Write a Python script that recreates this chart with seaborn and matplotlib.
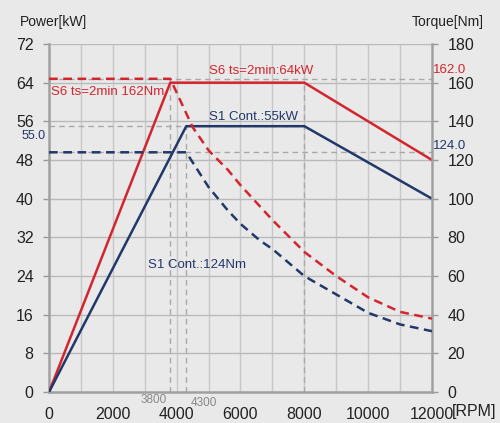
import numpy as np
import pandas as pd
import matplotlib
matplotlib.use("Agg")
import matplotlib.pyplot as plt
import seaborn as sns

# power curves (kW)
s6_power_rpm = [0, 3800, 8000, 12000]
s6_power_kw = [0, 64, 64, 48]
s1_power_rpm = [0, 4300, 8000, 12000]
s1_power_kw = [0, 55, 55, 40]

# torque curves (Nm)
s6_torque_rpm = [0, 3800, 4500, 5000, 5600, 6000, 7000, 8000, 9000, 10000, 11000, 12000]
s6_torque_nm = [162, 162, 137, 125, 115, 107, 89, 72.5, 60, 49, 41.5, 38]
s1_torque_rpm = [0, 4300, 5000, 5600, 6000, 6600, 7000, 8000, 9000, 10000, 11000, 12000]
s1_torque_nm = [124, 124, 106, 94, 87, 78.5, 74, 60, 50.5, 41, 35, 31.5]

x_ticks = [0, 2000, 4000, 6000, 8000, 10000, 12000]
power_ticks = [0, 8, 16, 24, 32, 40, 48, 56, 64, 72]
torque_ticks = [0, 20, 40, 60, 80, 100, 120, 140, 160, 180]

red = "#d3252e"
navy = "#23386a"
gray = "#a8a8a8"

sns.set_theme(style="white")
plt.rcParams['font.family'] = ['Liberation Sans', 'DejaVu Sans']

fig = plt.figure(figsize=(5, 4.23), dpi=100)
fig.patch.set_facecolor("#e8e9e8")
ax = fig.add_axes([0.098, 0.073, 0.766, 0.823])
ax.set_facecolor("#e8e9e8")
ax2 = ax.twinx()

# grid
for xv in range(1000, 12000, 1000):
    ax.axvline(xv, color="#c6c7c6", lw=1, zorder=0)
for yv in power_ticks[1:]:
    ax.axhline(yv, color="#b9bab9", lw=1, zorder=0)

# reference dashed lines
ax.plot([0, 12000], [64.8, 64.8], ls=(0, (4, 3)), color=gray, lw=1, zorder=1)
ax.plot([0, 8000], [55, 55], ls=(0, (4, 3)), color=gray, lw=1, zorder=1)
ax.plot([0, 12000], [49.6, 49.6], ls=(0, (4, 3)), color=gray, lw=1, zorder=1)
ax.plot([3800, 3800], [0, 64.8], ls=(0, (4, 3)), color=gray, lw=1, zorder=1)
ax.plot([4300, 4300], [0, 55], ls=(0, (4, 3)), color=gray, lw=1, zorder=1)
ax.plot([8000, 8000], [0, 64], ls=(0, (4, 3)), color=gray, lw=1, zorder=1)

sns.lineplot(x=s6_power_rpm, y=s6_power_kw, ax=ax, color=red, lw=1.8, zorder=3)
sns.lineplot(x=s1_power_rpm, y=s1_power_kw, ax=ax, color=navy, lw=1.8, zorder=3)
sns.lineplot(x=s6_torque_rpm, y=s6_torque_nm, ax=ax2, color=red, lw=1.8,
             ls=(0, (3.5, 2.2)), zorder=3)
sns.lineplot(x=s1_torque_rpm, y=s1_torque_nm, ax=ax2, color=navy, lw=1.8,
             ls=(0, (3.5, 2.2)), zorder=3)

ax.set_xlim(0, 12000)
ax.set_ylim(0, 72)
ax2.set_ylim(0, 180)
ax.set_xticks(x_ticks)
ax.set_yticks(power_ticks)
ax2.set_yticks(torque_ticks)
ax2.grid(False)

for a in (ax, ax2):
    for s in a.spines.values():
        s.set_visible(False)
    a.tick_params(colors="#999999", labelcolor="#222222", labelsize=11.5,
                  length=4, width=1, direction="out", pad=7)
    a.set_xlabel("")
    a.set_ylabel("")
ax.spines["left"].set_visible(True)
ax.spines["bottom"].set_visible(True)
ax2.spines["right"].set_visible(True)
for s in (ax.spines["left"], ax.spines["bottom"], ax2.spines["right"]):
    s.set_color("#a0a0a0")
    s.set_linewidth(1.8)
ax.tick_params(axis="x", length=0, pad=11)

fig.text(0.04, 0.948, "Power[kW]", fontsize=10, color="#222222", va="center")
fig.text(0.824, 0.948, "Torque[Nm]", fontsize=10, color="#222222", va="center")
fig.text(0.904, 0.027, "[RPM]", fontsize=11.5, color="#222222", va="center")

ax.text(5000, 66.4, "S6 ts=2min:64kW", color=red, fontsize=9.5, va="center")
ax.text(60, 62.0, "S6 ts=2min 162Nm", color=red, fontsize=9.5, va="center")
ax.text(5000, 56.8, "S1 Cont.:55kW", color=navy, fontsize=9.5, va="center")
ax.text(3100, 26.3, "S1 Cont.:124Nm", color=navy, fontsize=9.5, va="center")
ax.text(-120, 52.9, "55.0", color=navy, fontsize=9, ha="right", va="center")
ax.text(12030, 50.9, "124.0", color=navy, fontsize=9.5, va="center")
ax.text(12030, 66.6, "162.0", color=red, fontsize=9.5, va="center")
ax.text(3700, -1.7, "3800", color="#888888", fontsize=8.5, ha="right", va="center")
ax.text(4450, -2.3, "4300", color="#888888", fontsize=8.5, va="center")

fig.savefig("out.png", dpi=100, facecolor=fig.get_facecolor())
